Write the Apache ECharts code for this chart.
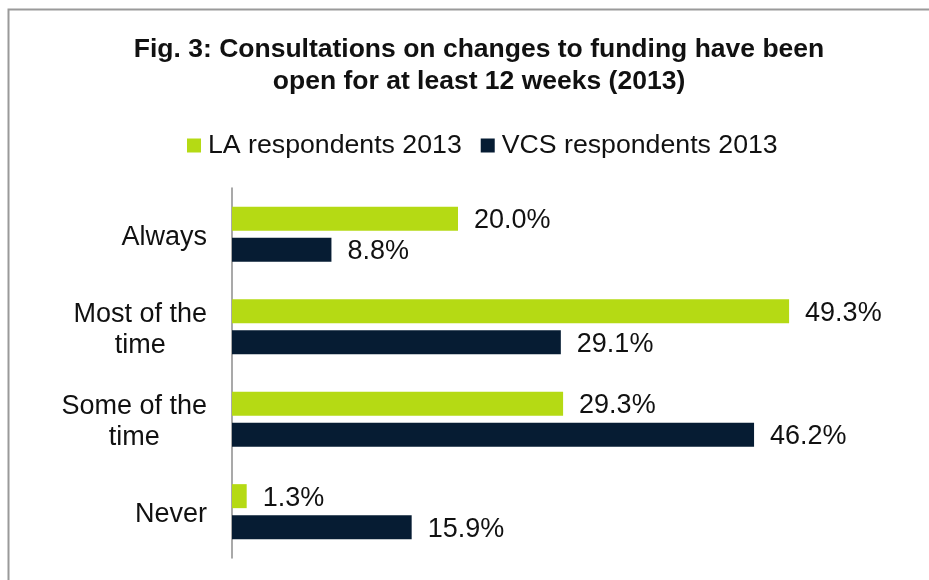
<!DOCTYPE html>
<html>
<head>
<meta charset="utf-8">
<script src="https://cdn.jsdelivr.net/npm/echarts@6/dist/echarts.min.js"></script>
<style>
html,body{margin:0;padding:0;background:#fff;}
#c{width:929px;height:580px;}
</style>
</head>
<body>
<div id="c"></div>
<script>
const categories = ['Always', 'Most of the\ntime', 'Some of the\ntime', 'Never'];
const laValues = [20.0, 49.3, 29.3, 1.3];
const vcsValues = [8.8, 29.1, 46.2, 15.9];
const seriesNames = ['LA respondents 2013', 'VCS respondents 2013'];
const titleText = 'Fig. 3: Consultations on changes to funding have been\nopen for at least 12 weeks (2013)';

const FONT = '"Liberation Sans", Arial, Helvetica, sans-serif';
const FS = 27;
const chart = echarts.init(document.getElementById('c'), null, {renderer: 'canvas'});

const labelStyle = {
  show: true,
  position: 'right',
  distance: 16,
  offset: [0, 2],
  color: '#111',
  fontSize: FS,
  fontFamily: FONT,
  formatter: p => p.value.toFixed(1) + '%'
};

chart.setOption({
  backgroundColor: '#fff',
  animation: false,
  graphic: [{
    type: 'rect',
    silent: true,
    shape: {x: 8.5, y: 9.5, width: 1000, height: 1000},
    style: {fill: 'none', stroke: '#9a9a9a', lineWidth: 2}
  }],
  title: {
    text: titleText,
    left: 474,
    textAlign: 'center',
    top: 29,
    textStyle: {
      fontFamily: FONT,
      fontWeight: 'bold',
      fontSize: 26.5,
      lineHeight: 32,
      color: '#111'
    }
  },
  legend: {
    top: 127,
    left: 182,
    orient: 'horizontal',
    icon: 'rect',
    itemWidth: 14,
    itemHeight: 14,
    itemGap: 19,
    textStyle: {fontFamily: FONT, fontSize: 26.7, color: '#111', padding: [0, 0, 0, 2]},
    data: seriesNames
  },
  grid: {left: 232, top: 188, width: 678, height: 370, containLabel: false},
  xAxis: {
    type: 'value',
    min: 0,
    max: 60,
    show: false
  },
  yAxis: {
    type: 'category',
    inverse: true,
    data: categories,
    axisLine: {show: true, lineStyle: {color: '#8c8c8c', width: 1.5}},
    axisTick: {show: false},
    axisLabel: {
      margin: 25,
      padding: [6, 0, 0, 0],
      fontFamily: FONT,
      fontSize: FS,
      color: '#111',
      formatter: v => v.split('\n').map(s => '{a|' + s + '}').join('\n'),
      rich: {a: {align: 'center', fontFamily: FONT, fontSize: FS, lineHeight: 31, color: '#111'}}
    }
  },
  series: [{
    name: seriesNames[0],
    type: 'bar',
    data: laValues,
    barWidth: 24,
    barGap: '30%',
    itemStyle: {color: '#b5da14'},
    label: labelStyle
  }, {
    name: seriesNames[1],
    type: 'bar',
    data: vcsValues,
    barWidth: 24,
    barGap: '30%',
    itemStyle: {color: '#061c33'},
    label: labelStyle
  }]
});
</script>
</body>
</html>
